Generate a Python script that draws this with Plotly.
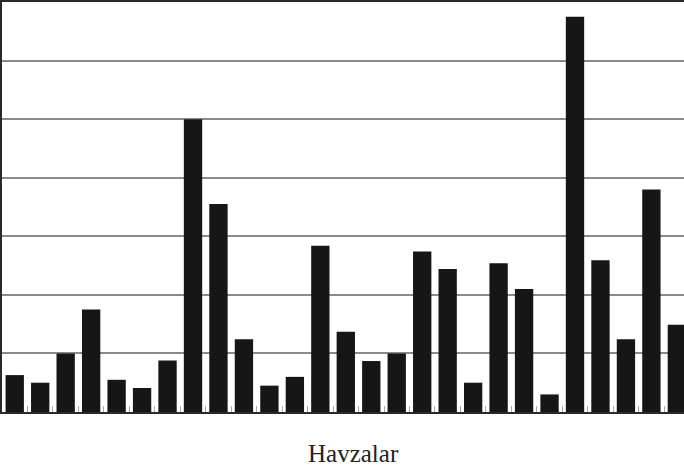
import plotly.graph_objects as go

categories = [f"H{i}" for i in range(1, 28)]
values = [0.63, 0.50, 1.00, 1.75, 0.55, 0.41, 0.88, 5.00, 3.55, 1.24,
          0.45, 0.60, 2.84, 1.37, 0.87, 1.00, 2.74, 2.44, 0.50, 2.54,
          2.10, 0.30, 6.75, 2.59, 1.24, 3.80, 1.49]
x_title = "Havzalar"

fig = go.Figure()
fig.add_trace(go.Bar(x=categories, y=values, marker=dict(color="#161616", line=dict(width=0))))

fig.update_layout(
    width=684, height=469,
    margin=dict(l=2, r=0, t=2, b=57),
    paper_bgcolor="white", plot_bgcolor="white",
    bargap=0.28,
    showlegend=False,
    xaxis=dict(
        range=[-0.5, 26.28], showticklabels=False,
        ticks="inside", tickson="boundaries", ticklen=6, tickcolor="#aaaaaa", tickwidth=1,
        showline=True, linecolor="#2a2a2a", linewidth=2, mirror=True,
        showgrid=False, zeroline=False,
    ),
    yaxis=dict(
        range=[0, 7], dtick=1, showticklabels=False, ticks="",
        showgrid=True, gridcolor="#8a8a8a", gridwidth=1.5,
        showline=True, linecolor="#2a2a2a", linewidth=2,
        zeroline=False,
    ),
    annotations=[dict(
        text=x_title, xref="paper", yref="paper", x=0.515, y=-0.1,
        xanchor="center", yanchor="middle", showarrow=False,
        font=dict(family="Liberation Serif, DejaVu Serif, serif", size=25, color="#222222"),
    )],
)

fig.write_html("out.html", config={"displayModeBar": False},
               post_script="document.body.style.margin='0';document.body.style.overflow='hidden';")
